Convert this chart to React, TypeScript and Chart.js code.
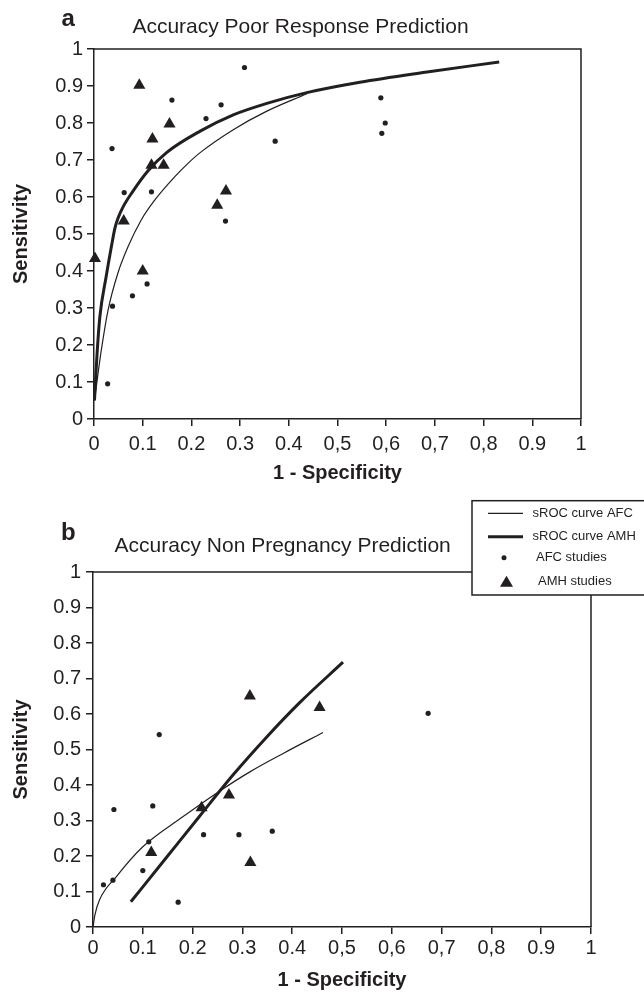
import React, { useEffect, useRef } from 'react';
import { Chart, registerables } from 'chart.js';

Chart.register(...registerables);

const FONT = "'Liberation Sans', Arial, Helvetica, sans-serif";
const INK = '#231f20';

// Tick labels (as printed in the figure)
const xTickLabels = ['0', '0.1', '0.2', '0.3', '0.4', '0,5', '0,6', '0,7', '0,8', '0.9', '1'];
const yTickLabels = ['0', '0.1', '0.2', '0.3', '0.4', '0.5', '0.6', '0.7', '0.8', '0.9', '1'];

const seriesLabels = ['sROC curve AFC', 'sROC curve AMH', 'AFC studies', 'AMH studies'];

// ---------- Panel a: Accuracy Poor Response Prediction ----------
const aAfcStudiesX = [0.037, 0.062, 0.118, 0.160, 0.230, 0.261, 0.309, 0.270, 0.372, 0.589, 0.598, 0.591, 0.038, 0.079, 0.109, 0.028];
const aAfcStudiesY = [0.731, 0.612, 0.614, 0.862, 0.812, 0.849, 0.950, 0.535, 0.751, 0.868, 0.800, 0.772, 0.305, 0.333, 0.365, 0.095];
const aAmhStudiesX = [0.093, 0.155, 0.120, 0.118, 0.143, 0.061, 0.253, 0.271, 0.002, 0.100];
const aAmhStudiesY = [0.902, 0.797, 0.757, 0.686, 0.686, 0.535, 0.578, 0.616, 0.434, 0.400];
const aAfcCurveX = [0.001, 0.008, 0.015, 0.029, 0.049, 0.070, 0.097, 0.125, 0.166, 0.193, 0.218, 0.286, 0.355, 0.437];
const aAfcCurveY = [0.05, 0.12, 0.186, 0.295, 0.394, 0.466, 0.538, 0.592, 0.655, 0.691, 0.72, 0.782, 0.832, 0.879];
const aAmhCurveX = [0.001, 0.006, 0.012, 0.025, 0.036, 0.043, 0.050, 0.060, 0.077, 0.111, 0.149, 0.218, 0.286, 0.355, 0.437, 0.546, 0.68, 0.832];
const aAmhCurveY = [0.05, 0.17, 0.276, 0.385, 0.468, 0.516, 0.545, 0.574, 0.61, 0.671, 0.72, 0.778, 0.822, 0.853, 0.882, 0.91, 0.937, 0.965];

// ---------- Panel b: Accuracy Non Pregnancy Prediction ----------
const bAfcStudiesX = [0.021, 0.040, 0.042, 0.100, 0.112, 0.120, 0.133, 0.171, 0.222, 0.293, 0.360, 0.673];
const bAfcStudiesY = [0.119, 0.132, 0.331, 0.159, 0.240, 0.341, 0.542, 0.070, 0.260, 0.260, 0.270, 0.602];
const bAmhStudiesX = [0.315, 0.455, 0.218, 0.273, 0.117, 0.316];
const bAmhStudiesY = [0.651, 0.618, 0.336, 0.372, 0.210, 0.182];
const bAfcCurveX = [0, 0.004, 0.013, 0.047, 0.100, 0.181, 0.248, 0.315, 0.382, 0.462];
const bAfcCurveY = [0, 0.035, 0.076, 0.142, 0.226, 0.311, 0.377, 0.437, 0.489, 0.548];
const bAmhCurveX = [0.076, 0.147, 0.214, 0.281, 0.348, 0.415, 0.502];
const bAmhCurveY = [0.071, 0.195, 0.312, 0.428, 0.534, 0.632, 0.746];

function pts(xs: number[], ys: number[]) {
  return xs.map((x, i) => ({ x, y: ys[i] }));
}

function drawTriangle(ctx: CanvasRenderingContext2D, x: number, y: number, w: number, h: number) {
  ctx.beginPath();
  ctx.moveTo(x, y - (2 * h) / 3);
  ctx.lineTo(x + w / 2, y + h / 3);
  ctx.lineTo(x - w / 2, y + h / 3);
  ctx.closePath();
  ctx.fill();
}

const panelPlugin = {
  id: 'panelDecor',
  afterDraw(chart: any, _args: any, opts: any) {
    const { ctx, chartArea: a } = chart;
    ctx.save();
    // box top + right
    ctx.strokeStyle = INK;
    ctx.lineWidth = 1.5;
    ctx.beginPath();
    ctx.moveTo(a.left, a.top);
    ctx.lineTo(a.right, a.top);
    ctx.lineTo(a.right, a.bottom);
    ctx.stroke();
    // panel letter + title
    ctx.fillStyle = INK;
    ctx.textBaseline = 'alphabetic';
    ctx.textAlign = 'left';
    ctx.font = `bold 24px ${FONT}`;
    ctx.fillText(opts.letter, opts.letterX, opts.letterY);
    ctx.textAlign = 'center';
    ctx.font = `21px ${FONT}`;
    ctx.fillText(opts.title, opts.titleX, opts.titleY);

    if (opts.legend) {
      const L = opts.legend;
      ctx.fillStyle = '#ffffff';
      ctx.fillRect(L.x, L.y, L.w, L.h);
      ctx.strokeStyle = INK;
      ctx.lineWidth = 1.5;
      ctx.strokeRect(L.x, L.y, L.w, L.h);
      const labels = chart.data.datasets.map((d: any) => d.label);
      const rows = [L.y + 12.6, L.y + 36, L.y + 57, L.y + 81];
      ctx.strokeStyle = INK;
      ctx.lineWidth = 1.2;
      ctx.beginPath();
      ctx.moveTo(L.x + 16, rows[0]);
      ctx.lineTo(L.x + 51, rows[0]);
      ctx.stroke();
      ctx.lineWidth = 3;
      ctx.beginPath();
      ctx.moveTo(L.x + 16, rows[1]);
      ctx.lineTo(L.x + 51, rows[1]);
      ctx.stroke();
      ctx.fillStyle = INK;
      ctx.beginPath();
      ctx.arc(L.x + 32, rows[2], 2.5, 0, Math.PI * 2);
      ctx.fill();
      drawTriangle(ctx, L.x + 34.5, rows[3] + 1.5, 13, 11);
      ctx.font = `13px ${FONT}`;
      ctx.textAlign = 'left';
      ctx.textBaseline = 'middle';
      ctx.fillText(labels[0], L.x + 60.5, rows[0]);
      ctx.fillText(labels[1], L.x + 60.5, rows[1]);
      ctx.fillText(labels[2], L.x + 64, rows[2]);
      ctx.fillText(labels[3], L.x + 66, rows[3]);
    }
    ctx.restore();
  },
};

type PanelProps = {
  top: number;
  afcStudies: { x: number; y: number }[];
  amhStudies: { x: number; y: number }[];
  afcCurve: { x: number; y: number }[];
  amhCurve: { x: number; y: number }[];
  area: { left: number; top: number; right: number; bottom: number };
  decor: any;
  xTitlePad: number;
  xTickPad: number;
  yTickPad: number;
};

const W = 644;
const H = 496;

function Panel(p: PanelProps) {
  const ref = useRef<HTMLCanvasElement | null>(null);
  useEffect(() => {
    if (!ref.current) return;
    const tickFont = { family: FONT, size: 20 };
    const titleFont = { family: FONT, size: 20, weight: 'bold' as const };
    const chart = new Chart(ref.current, {
      type: 'scatter',
      data: {
        datasets: [
          {
            label: seriesLabels[0],
            data: p.afcCurve,
            showLine: true,
            borderColor: INK,
            borderWidth: 1.2,
            pointRadius: 0,
            cubicInterpolationMode: 'monotone',
            clip: false,
          } as any,
          {
            label: seriesLabels[1],
            data: p.amhCurve,
            showLine: true,
            borderColor: INK,
            borderWidth: 3,
            pointRadius: 0,
            cubicInterpolationMode: 'monotone',
            clip: false,
          } as any,
          {
            label: seriesLabels[2],
            data: p.afcStudies,
            pointStyle: 'circle',
            pointRadius: 2.6,
            backgroundColor: INK,
            borderWidth: 0,
            clip: false,
          } as any,
          {
            label: seriesLabels[3],
            data: p.amhStudies,
            pointStyle: 'triangle',
            pointRadius: 7,
            backgroundColor: INK,
            borderWidth: 0,
            clip: false,
          } as any,
        ],
      },
      options: {
        responsive: false,
        animation: false,
        events: [],
        layout: {
          padding: { left: 0, top: p.area.top, right: W - p.area.right, bottom: 0 },
        },
        plugins: {
          legend: { display: false },
          tooltip: { enabled: false },
          panelDecor: p.decor,
        } as any,
        scales: {
          x: {
            type: 'linear',
            min: 0,
            max: 1,
            afterFit: (s: any) => {
              s.height = H - p.area.bottom;
            },
            border: { display: true, color: INK, width: 1.5 },
            grid: { drawOnChartArea: false, drawTicks: true, tickLength: 7, color: INK, lineWidth: 1.5 },
            ticks: {
              stepSize: 0.1,
              autoSkip: false,
              maxRotation: 0,
              padding: p.xTickPad,
              color: INK,
              font: tickFont,
              callback: (_v: any, i: number) => xTickLabels[i],
            },
            title: {
              display: true,
              text: '1 - Specificity',
              color: INK,
              font: titleFont,
              padding: { top: 0, bottom: p.xTitlePad },
            },
          },
          y: {
            type: 'linear',
            min: 0,
            max: 1,
            afterFit: (s: any) => {
              s.width = p.area.left;
            },
            border: { display: true, color: INK, width: 1.5 },
            grid: { drawOnChartArea: false, drawTicks: true, tickLength: 7, color: INK, lineWidth: 1.5 },
            ticks: {
              stepSize: 0.1,
              autoSkip: false,
              padding: p.yTickPad,
              color: INK,
              font: tickFont,
              callback: (_v: any, i: number) => yTickLabels[i],
            },
            title: {
              display: true,
              text: 'Sensitivity',
              color: INK,
              font: titleFont,
              padding: { top: 9, bottom: 0 },
            },
          },
        },
      } as any,
      plugins: [panelPlugin as any],
    });
    return () => chart.destroy();
  }, []);
  return (
    <canvas
      ref={ref}
      width={W}
      height={H}
      style={{ position: 'absolute', left: 0, top: p.top, width: W, height: H, display: 'block' }}
    />
  );
}

export default function App() {
  return (
    <div style={{ position: 'absolute', left: 0, top: 0, width: W, height: 992, background: '#fff', overflow: 'hidden' }}>
      <Panel
        top={0}
        afcStudies={pts(aAfcStudiesX, aAfcStudiesY)}
        amhStudies={pts(aAmhStudiesX, aAmhStudiesY)}
        afcCurve={pts(aAfcCurveX, aAfcCurveY)}
        amhCurve={pts(aAmhCurveX, aAmhCurveY)}
        area={{ left: 94, top: 49, right: 581, bottom: 419 }}
        xTitlePad={11}
        xTickPad={6}
        yTickPad={4}
        decor={{
          letter: 'a',
          letterX: 61.5,
          letterY: 26,
          title: 'Accuracy Poor Response Prediction',
          titleX: 300.5,
          titleY: 33,
        }}
      />
      <Panel
        top={496}
        afcStudies={pts(bAfcStudiesX, bAfcStudiesY)}
        amhStudies={pts(bAmhStudiesX, bAmhStudiesY)}
        afcCurve={pts(bAfcCurveX, bAfcCurveY)}
        amhCurve={pts(bAmhCurveX, bAmhCurveY)}
        area={{ left: 93, top: 76, right: 591, bottom: 431 }}
        xTitlePad={0}
        xTickPad={2}
        yTickPad={5}
        decor={{
          letter: 'b',
          letterX: 61,
          letterY: 44,
          title: 'Accuracy Non Pregnancy Prediction',
          titleX: 282.7,
          titleY: 55.7,
          legend: { x: 472, y: 4.7, w: 200, h: 94.3 },
        }}
      />
    </div>
  );
}
